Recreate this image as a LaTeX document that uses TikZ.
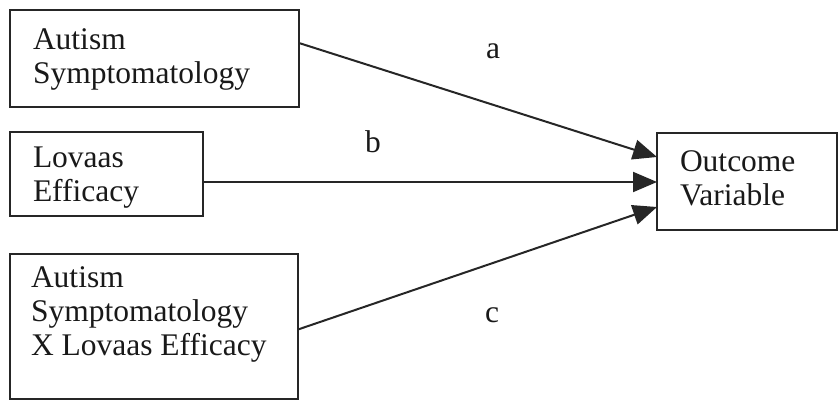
\documentclass[tikz,border=0pt]{standalone}
\usepackage{fontspec}
\setmainfont{Liberation Serif}
\usetikzlibrary{arrows.meta,positioning}

\begin{document}
\begin{tikzpicture}[x=1pt, y=-1pt, line width=2pt, >={Triangle[length=24pt,width=20pt]},
    varbox/.style={draw=black!85, anchor=north west, inner sep=0pt, outer sep=0pt},
    vartext/.style={align=left, inner sep=0pt, outer sep=0pt, text=black!90, font=\fontsize{31.5pt}{34pt}\selectfont},
    pathlbl/.style={anchor=base, inner sep=0pt, text=black!90, font=\fontsize{31.5pt}{34pt}\selectfont}]
    \useasboundingbox (0,0) rectangle (839,401);
    % predictors and outcome
    \node[varbox, minimum width=289pt, minimum height=97pt] (sym) at (10,10) {};
    \node[varbox, minimum width=193pt, minimum height=84pt] (lov) at (10,132) {};
    \node[varbox, minimum width=288pt, minimum height=145pt] (inter) at (10,254) {};
    \node[varbox, minimum width=180pt, minimum height=97pt] (out) at (657,133) {};
    \node[vartext, below right=19pt and 23pt of sym.north west] (symtxt) {Autism\\Symptomatology};
    \node[vartext, below right=15pt and 23pt of lov.north west] (lovtxt) {Lovaas\\Efficacy};
    \node[vartext, below right=13pt and 21pt of inter.north west] (intertxt) {Autism\\Symptomatology\\X Lovaas Efficacy};
    \node[vartext, below right=18pt and 23pt of out.north west] (outtxt) {Outcome\\Variable};
    % paths
    \draw[->, black!85] ([yshift=15.5pt]sym.east) -- ([yshift=24.5pt]out.west);
    \draw[->, black!85] ([yshift=-8pt]lov.east) -- ([yshift=-0.5pt]out.west);
    \draw[->, black!85] ([yshift=-3pt]inter.east) -- ([yshift=-25.5pt]out.west);
    \node[pathlbl] (la) at (493,59) {a};
    \node[pathlbl] (lb) at (373,153) {b};
    \node[pathlbl] (lc) at (492,323) {c};
\end{tikzpicture}
\end{document}
